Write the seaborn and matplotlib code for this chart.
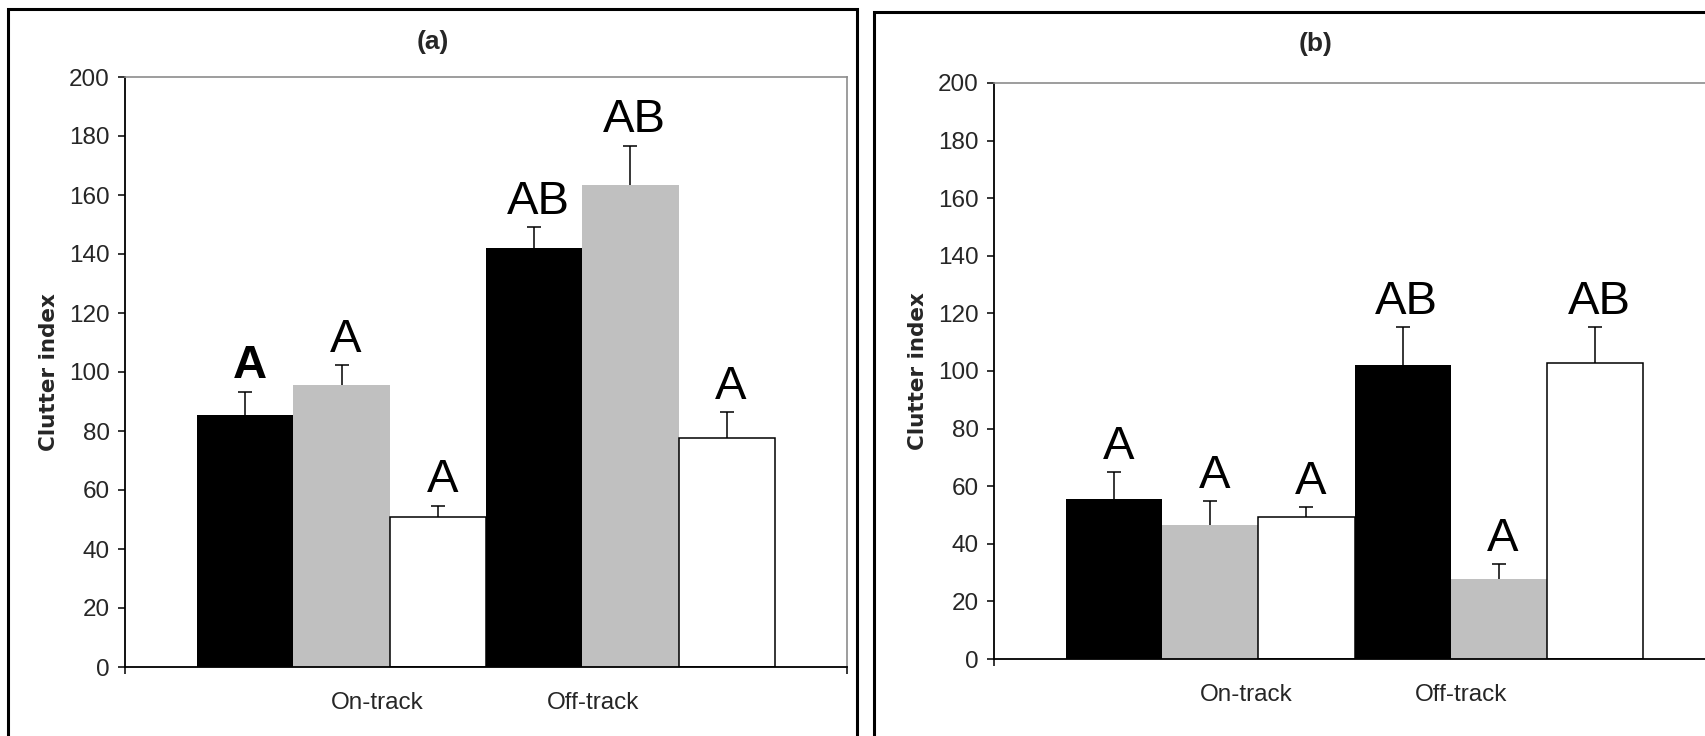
import numpy as np
import pandas as pd
import matplotlib
matplotlib.use("Agg")
import matplotlib.pyplot as plt
from matplotlib.patches import Rectangle
import seaborn as sns

# data
locations = ["On-track", "Off-track"]
series = ["Series 1", "Series 2", "Series 3"]
colors = ["black", "#c0c0c0", "white"]

# panel (a): one list per series, values for [On-track, Off-track]
a_means = [[85.4, 142.1], [95.6, 163.4], [50.8, 77.7]]
a_errors = [[7.9, 7.0], [6.7, 13.3], [3.9, 8.6]]
a_letters = [["A", "AB"], ["A", "AB"], ["A", "A"]]

# panel (b)
b_means = [[55.7, 102.1], [46.5, 27.7], [49.2, 102.7]]
b_errors = [[9.1, 13.3], [8.5, 5.3], [3.5, 12.7]]
b_letters = [["A", "AB"], ["A", "A"], ["A", "AB"]]

y_ticks = list(range(0, 201, 20))

W, H = 1705, 736

sns.set_theme(style="white")
plt.rcParams["font.family"] = ["Liberation Sans Narrow", "Liberation Sans", "DejaVu Sans"]


def to_frame(means):
    rows = []
    for s, vals in zip(series, means):
        for loc, v in zip(locations, vals):
            rows.append({"location": loc, "series": s, "value": v})
    return pd.DataFrame(rows)


def draw_panel(ax, means, errors, letters, bold_first=False):
    df = to_frame(means)
    sns.barplot(data=df, x="location", y="value", hue="series",
                order=locations, hue_order=series, palette=colors,
                width=1.0, errorbar=None, saturation=1, legend=False, ax=ax)

    bar_conts = list(ax.containers)
    for i, cont in enumerate(bar_conts):
        xs = np.array([p.get_x() + p.get_width() / 2 for p in cont.patches])
        m = np.array(means[i])
        e = np.array(errors[i])
        for p in cont.patches:
            if colors[i] == "white":
                p.set_edgecolor("black")
                p.set_linewidth(1.1)
            else:
                p.set_linewidth(0)
        _, caps, _ = ax.errorbar(xs, m, yerr=[np.zeros_like(e), e], fmt="none",
                                 ecolor="black", elinewidth=1.1, capsize=5,
                                 capthick=1.1, zorder=4)
        # only the upper half of the error bar, like the original
        for c in caps:
            if np.allclose(c.get_ydata(), m):
                c.set_visible(False)
        for j, (x, top) in enumerate(zip(xs, m + e)):
            weight = "bold" if (bold_first and i == 0 and j == 0) else "normal"
            ax.text(x + 0.015, top + 4.5, letters[i][j], ha="center",
                    va="baseline", fontsize=34, fontweight=weight,
                    color="black", zorder=5)

    ax.set_ylim(0, 200)
    ax.set_yticks(y_ticks)
    ax.set_xlim(-0.75, 1.75)
    ax.set_xticks([0.125, 0.87])
    ax.set_xticklabels(locations)
    ax.set_xticks([-0.75, 1.75], minor=True)
    ax.tick_params(axis="x", which="major", length=0, pad=18, labelsize=17.5)
    ax.tick_params(axis="x", which="minor", length=5, width=1.1,
                   direction="out", color="black", bottom=True)
    ax.tick_params(axis="y", length=5, width=1.1, direction="out",
                   color="black", left=True, pad=6, labelsize=17.5)
    ax.set_xlabel("")
    ax.set_ylabel("Clutter index", fontfamily="DejaVu Sans",
                  fontweight="bold", fontsize=15.5)
    ax.yaxis.set_label_coords(-0.092, 0.5)
    for side in ["left", "bottom"]:
        ax.spines[side].set_color("black")
        ax.spines[side].set_linewidth(1.3)
    for side in ["top", "right"]:
        ax.spines[side].set_color("#8c8c8c")
        ax.spines[side].set_linewidth(1.2)
    ax.set_facecolor("white")


fig = plt.figure(figsize=(W / 100, H / 100), dpi=100)
fig.patch.set_facecolor("white")

ax_a = fig.add_axes([125 / W, (H - 667) / H, 722 / W, 590 / H])
ax_b = fig.add_axes([994 / W, (H - 659) / H, 721 / W, 576 / H])

draw_panel(ax_a, a_means, a_errors, a_letters, bold_first=True)
draw_panel(ax_b, b_means, b_errors, b_letters)

# panel frames (cut off at the bottom / right as in the original)
fig.patches.append(Rectangle((8 / W, -0.1), (857 - 8) / W, (H - 9) / H + 0.1,
                             transform=fig.transFigure, fill=False,
                             edgecolor="black", linewidth=2.2))
fig.patches.append(Rectangle((874 / W, -0.1), 0.6, (H - 12) / H + 0.1,
                             transform=fig.transFigure, fill=False,
                             edgecolor="black", linewidth=2.2))

fig.text(433 / W, 1 - 42 / H, "(a)", ha="center", va="center",
         fontsize=19, fontweight="bold")
fig.text(1316 / W, 1 - 44 / H, "(b)", ha="center", va="center",
         fontsize=19, fontweight="bold")

fig.savefig("out.png", dpi=100)
